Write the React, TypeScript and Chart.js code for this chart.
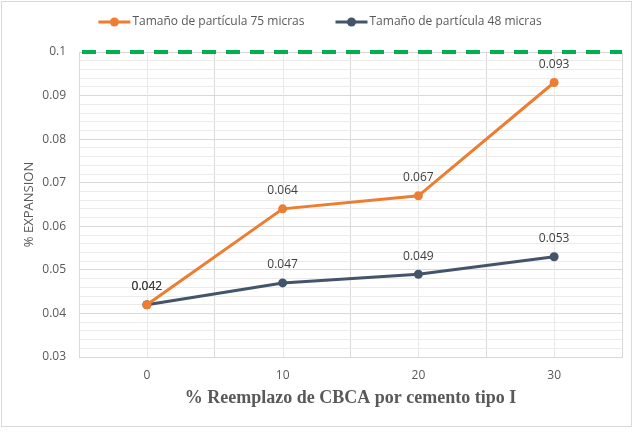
import React, { useEffect, useRef } from "react";
import { Chart, registerables } from "chart.js";

Chart.register(...registerables);

const categories = ["0", "10", "20", "30"];
const series75 = [0.042, 0.064, 0.067, 0.093];
const series48 = [0.042, 0.047, 0.049, 0.053];
const seriesNames = ["Tamaño de partícula 75 micras", "Tamaño de partícula 48 micras"];
const seriesColors = ["#ED7D31", "#44546A"];
const limitValue = [0.1];
const yRange = [0.03, 0.1];
const yTitle = "% EXPANSION";
const xTitle = "% Reemplazo de CBCA por cemento tipo I";

const FONT = "'Open Sans', 'DejaVu Sans', sans-serif";
const TEXT = "#595959";

const isMajor = (v: number) => Math.abs(v * 100 - Math.round(v * 100)) < 1e-6;

const framePlugin = {
  id: "frame",
  beforeDraw(chart: any) {
    const { ctx, width, height } = chart;
    ctx.save();
    ctx.fillStyle = "#ffffff";
    ctx.fillRect(0, 0, width, height);
    ctx.strokeStyle = "#d9d9d9";
    ctx.lineWidth = 1;
    ctx.strokeRect(1.5, 1.5, 630, 425);
    ctx.restore();
  },
};

const centerGridPlugin = {
  id: "centerGrid",
  beforeDatasetsDraw(chart: any) {
    const { ctx, chartArea, scales } = chart;
    ctx.save();
    ctx.strokeStyle = "#e9e9e9";
    ctx.lineWidth = 1;
    categories.forEach((_, i) => {
      const x = Math.round(scales.x.getPixelForValue(i)) + 0.5;
      ctx.beginPath();
      ctx.moveTo(x, chartArea.top);
      ctx.lineTo(x, chartArea.bottom);
      ctx.stroke();
    });
    ctx.restore();
  },
};

const overlayPlugin = {
  id: "overlay",
  afterDatasetsDraw(chart: any) {
    const { ctx, chartArea, scales } = chart;
    ctx.save();
    const y = scales.y.getPixelForValue(limitValue[0]);
    ctx.strokeStyle = "#00B050";
    ctx.lineWidth = 4;
    ctx.setLineDash([14, 10]);
    ctx.beginPath();
    ctx.moveTo(chartArea.left + 3, y);
    ctx.lineTo(chartArea.right, y);
    ctx.stroke();
    ctx.setLineDash([]);
    ctx.font = `12px ${FONT}`;
    ctx.fillStyle = "#404040";
    ctx.textAlign = "center";
    ctx.textBaseline = "middle";
    chart.data.datasets.forEach((ds: any, di: number) => {
      const meta = chart.getDatasetMeta(di);
      meta.data.forEach((pt: any, i: number) => {
        ctx.fillText(String(ds.data[i]), pt.x, pt.y - 18);
      });
    });
    ctx.restore();
  },
  afterDraw(chart: any) {
    const { ctx, width } = chart;
    ctx.save();
    ctx.font = `12px ${FONT}`;
    const markW = 32;
    const textGap = 2;
    const itemGap = 31;
    const widths = chart.data.datasets.map((ds: any) => markW + textGap + ctx.measureText(ds.label).width);
    const total = widths.reduce((a: number, b: number) => a + b, 0) + itemGap * (widths.length - 1);
    let x = (width - total) / 2;
    const y = 22;
    chart.data.datasets.forEach((ds: any, i: number) => {
      ctx.strokeStyle = ds.borderColor;
      ctx.lineWidth = 3;
      ctx.beginPath();
      ctx.moveTo(x, y);
      ctx.lineTo(x + markW, y);
      ctx.stroke();
      ctx.fillStyle = ds.borderColor;
      ctx.beginPath();
      ctx.arc(x + markW / 2, y, 4.5, 0, Math.PI * 2);
      ctx.fill();
      ctx.fillStyle = TEXT;
      ctx.textAlign = "left";
      ctx.textBaseline = "middle";
      ctx.fillText(ds.label, x + markW + textGap, y);
      x += widths[i] + itemGap;
    });
    ctx.restore();
  },
};

export default function App() {
  const ref = useRef<HTMLCanvasElement | null>(null);
  useEffect(() => {
    if (!ref.current) return;
    const chart = new Chart(ref.current, {
      type: "line",
      data: {
        labels: categories,
        datasets: [series75, series48].map((d, i) => ({
          label: seriesNames[i],
          data: d,
          borderColor: seriesColors[i],
          backgroundColor: seriesColors[i],
          borderWidth: 3,
          pointRadius: 4.5,
          pointBorderWidth: 0,
          pointBackgroundColor: seriesColors[i],
          tension: 0,
        })),
      },
      options: {
        responsive: false,
        animation: false,
        layout: { padding: { top: 52, right: 18, left: 0, bottom: 0 } },
        plugins: { legend: { display: false }, tooltip: { enabled: false } },
        scales: {
          x: {
            type: "category",
            offset: true,
            afterFit: (s: any) => { s.height = 81; },
            grid: { offset: true, color: "#d9d9d9", drawTicks: false },
            border: { color: "#d9d9d9" },
            ticks: { color: TEXT, font: { family: FONT, size: 12 }, padding: 11 },
            title: {
              display: true,
              text: xTitle,
              color: TEXT,
              font: { family: "'Liberation Serif', 'Times New Roman', serif", size: 18, weight: "bold" },
              padding: { top: 4, bottom: 29 },
            },
          },
          y: {
            min: yRange[0],
            max: yRange[1],
            afterFit: (s: any) => { s.width = 79; },
            grid: {
              drawTicks: false,
              color: (c: any) => (isMajor(c.tick.value) ? "#d9d9d9" : "#ebebeb"),
            },
            border: { color: "#d9d9d9" },
            ticks: {
              stepSize: 0.002,
              maxTicksLimit: 100,
              autoSkip: false,
              padding: 13,
              color: TEXT,
              font: { family: FONT, size: 12 },
              callback: (v: any) => (isMajor(Number(v)) ? String(Math.round(Number(v) * 100) / 100) : ""),
            },
            title: {
              display: true,
              text: yTitle,
              color: TEXT,
              font: { family: FONT, size: 13 },
              padding: { top: 21, bottom: 4 },
            },
          },
        },
      },
      plugins: [framePlugin, centerGridPlugin, overlayPlugin],
    });
    return () => chart.destroy();
  }, []);
  return (
    <div style={{ position: "fixed", left: 0, top: 0, width: 640, height: 438, background: "#fff" }}>
      <canvas ref={ref} width={640} height={438} style={{ display: "block" }} />
    </div>
  );
}
